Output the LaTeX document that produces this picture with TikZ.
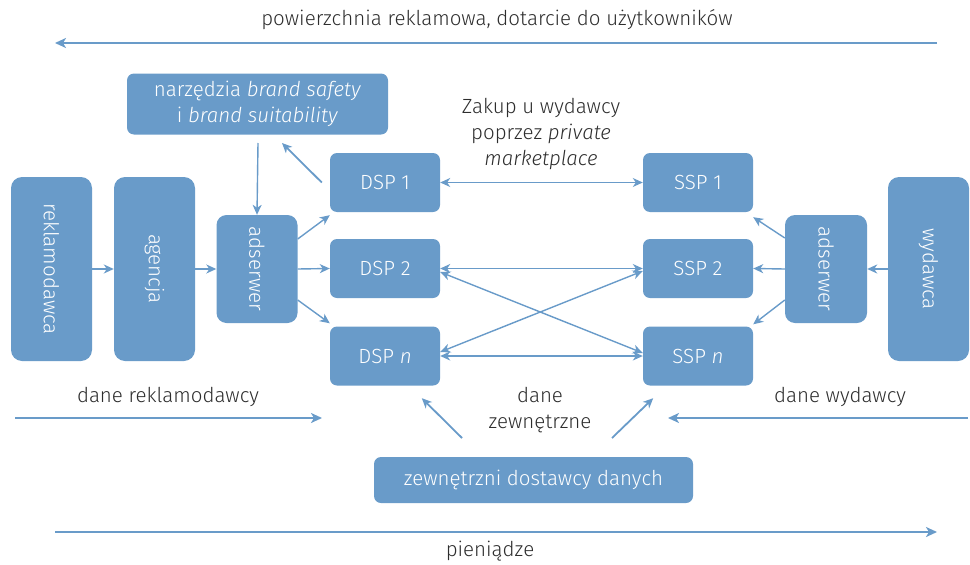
\documentclass[tikz,border=0pt]{standalone}
\usepackage{fontspec}
\setmainfont{Fira Sans}[UprightFont=* Light, ItalicFont=* Light Italic]
\usetikzlibrary{arrows.meta}
\definecolor{boxblue}{RGB}{105,155,201}
\definecolor{txtgray}{RGB}{45,45,45}
\tikzset{
  blk/.style={fill=boxblue, draw=none, rounded corners=7pt, text=white, font=\fontsize{20.5}{26}\selectfont, inner sep=0pt, align=center},
  tallblk/.style={blk, rounded corners=11pt},
  lbl/.style={text=txtgray, font=\fontsize{20.5}{26}\selectfont, align=center, inner sep=0pt},
  conn/.style={draw=boxblue, line width=1.4pt, -{Stealth[length=10pt,width=9pt,inset=3pt]}},
  dconn/.style={conn, {Stealth[length=10pt,width=9pt,inset=3pt]}-{Stealth[length=10pt,width=9pt,inset=3pt]}},
  flow/.style={draw=boxblue, line width=2.6pt, -{Stealth[length=11pt,width=10pt,inset=3pt]}},
}
\begin{document}
\begin{tikzpicture}[x=1pt,y=-1pt]
\useasboundingbox (0,0) rectangle (970,565);

% vertical participants
\node[tallblk, minimum width=81pt, minimum height=184pt] (rekl) at (51.5,269) {\rotatebox{-90}{reklamodawca}};
\node[tallblk, minimum width=81pt, minimum height=184pt] (agen) at (154.5,269) {\rotatebox{-90}{agencja}};
\node[blk, rounded corners=10pt, minimum width=81pt, minimum height=108pt] (adsL) at (257,269) {\rotatebox{-90}{adserwer}};
\node[blk, rounded corners=10pt, minimum width=82pt, minimum height=108pt] (adsR) at (826,269) {\rotatebox{-90}{adserwer}};
\node[tallblk, minimum width=81pt, minimum height=184pt] (wyd) at (928.5,269) {\rotatebox{-90}{wydawca}};

% brand safety tools
\node[blk, minimum width=261pt, minimum height=61pt] (brand) at (257.5,104) {narzędzia \textit{brand safety}\\i \textit{brand suitability}};

% DSP / SSP
\node[blk, minimum width=110pt, minimum height=59pt] (dsp1) at (385,182.5) {DSP 1};
\node[blk, minimum width=110pt, minimum height=59pt] (dsp2) at (385,268.5) {DSP 2};
\node[blk, minimum width=110pt, minimum height=59pt] (dspn) at (385,356) {DSP \textit{n}};
\node[blk, minimum width=110pt, minimum height=59pt] (ssp1) at (698,182.5) {SSP 1};
\node[blk, minimum width=110pt, minimum height=59pt] (ssp2) at (698,268.5) {SSP 2};
\node[blk, minimum width=110pt, minimum height=59pt] (sspn) at (698,356) {SSP \textit{n}};

% external data providers
\node[blk, minimum width=319pt, minimum height=46pt] (ext) at (533.5,480) {zewnętrzni dostawcy danych};

% labels
\node[lbl] (tTop) at (497,20) {powierzchnia reklamowa, dotarcie do użytkowników};
\node[lbl] (tPmp) at (541,134) {Zakup u wydawcy\\poprzez \textit{private}\\\textit{marketplace}};
\node[lbl] (tDr) at (168,397) {dane reklamodawcy};
\node[lbl] (tDw) at (840,397) {dane wydawcy};
\node[lbl] (tDz) at (540,410) {dane\\zewnętrzne};
\node[lbl] (tMoney) at (490,551) {pieniądze};

% flow arrows at top and bottom
\coordinate (topR) at (937,43);
\coordinate (topL) at (55,43);
\draw[flow] (topR) -- (topL);
\coordinate (botL) at (55,532);
\coordinate (botR) at (937,532);
\draw[flow] (botL) -- (botR);

% data arrows
\coordinate (drA) at (15,418);
\coordinate (drB) at (322,418);
\draw[flow, line width=2pt] (drA) -- (drB);
\coordinate (dwA) at (968,418);
\coordinate (dwB) at (668,418);
\draw[flow, line width=2pt] (dwA) -- (dwB);

% advertiser side chain
\draw[conn] (rekl.east) -- (agen.west);
\draw[conn] (agen.east) -- (adsL.west);
\coordinate (bsFoot) at (258,143);
\draw[conn] (bsFoot) -- (adsL.north);
\draw[conn] ([yshift=30pt]adsL.east) -- ([yshift=-3pt]dsp1.south west);
\draw[conn] (adsL.east) -- (dsp2.west);
\draw[conn] ([yshift=-31pt]adsL.east) -- ([yshift=3pt]dspn.north west);
\coordinate (bsTip) at (282,143);
\draw[conn, line width=1.8pt] ([xshift=-8pt]dsp1.west) -- (bsTip);

% publisher side chain
\draw[conn] (wyd.west) -- (adsR.east);
\draw[conn] ([yshift=31pt]adsR.west) -- ([yshift=-5pt]ssp1.south east);
\draw[conn] (adsR.west) -- (ssp2.east);
\draw[conn] ([yshift=-31pt]adsR.west) -- ([yshift=2pt]sspn.north east);

% DSP <-> SSP
\draw[dconn] (dsp1.east) -- (ssp1.west);
\draw[dconn] (dsp2.east) -- (ssp2.west);
\draw[dconn] (dspn.east) -- (sspn.west);
\draw[dconn] ([yshift=-3.5pt]dsp2.east) -- ([yshift=3pt]sspn.west);
\draw[dconn] ([yshift=4pt]dspn.east) -- ([yshift=-2.5pt]ssp2.west);

% external data
\coordinate (e1) at (462,438);
\coordinate (e2) at (612,438);
\draw[conn, line width=1.8pt] (e1) -- ([xshift=92pt,yshift=-12.5pt]dspn.south west);
\draw[conn, line width=1.8pt] (e2) -- ([xshift=-100pt,yshift=-12.5pt]sspn.south east);
\end{tikzpicture}
\end{document}
